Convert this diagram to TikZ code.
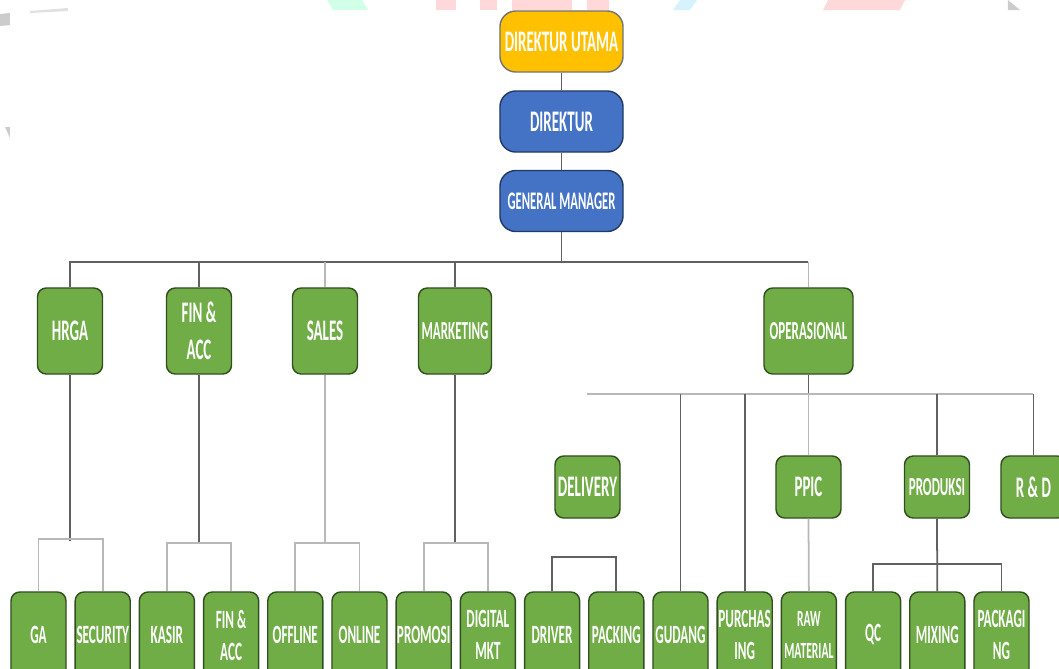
\documentclass[tikz,border=0pt]{standalone}
\usepackage{fontspec}
\newfontfamily\orgfont[FakeStretch=0.5]{Carlito}
\usepackage{tikz}

\definecolor{ygold}{HTML}{FFC000}
\definecolor{oblue}{HTML}{4472C4}
\definecolor{ogreen}{HTML}{70AD47}

\tikzset{
	unit/.style={fill=ogreen, draw=ogreen!45!black, line width=0.4pt, rounded corners=2.5pt,
		text=white, align=center, inner sep=0pt,
		font=\orgfont\bfseries\fontsize{8.5}{10.5}\selectfont},
	head/.style={unit, rounded corners=4.5pt, minimum width=1.23cm, minimum height=0.61cm},
	sect/.style={unit, minimum width=0.65cm, minimum height=0.86cm},
	dept/.style={unit, minimum width=0.65cm, minimum height=0.62cm},
	staff/.style={unit, minimum width=0.55cm, minimum height=0.86cm},
	small/.style={font=\orgfont\bfseries\fontsize{7.4}{9}\selectfont},
	link/.style={draw=black!62, line width=0.5pt},
	faint/.style={draw=black!28, line width=0.5pt}
}

\begin{document}
\begin{tikzpicture}[x=0.01cm,y=-0.01cm]
	\useasboundingbox (0,0) rectangle (1059,669);
	\clip (0,0) rectangle (1059,669);

	% faint watermark bits along the top edge
	\fill[green!50!cyan!18] (327,0) -- (362,0) -- (368,10) -- (333,10) -- cycle;
	\fill[red!15] (436,0) rectangle (456,10);
	\fill[red!15] (480,0) rectangle (497,10);
	\fill[red!15] (512,0) rectangle (572,10);
	\fill[red!15] (587,0) rectangle (609,10);
	\fill[cyan!16] (680,0) -- (697,0) -- (690,10) -- (673,10) -- cycle;
	\fill[red!15] (828,0) -- (905,0) -- (900,10) -- (823,10) -- cycle;
	\fill[black!20] (1008,0) -- (1020,10) -- (1008,10) -- cycle;
	\fill[black!20] (0,14) -- (10,13) -- (10,25) -- (0,26) -- cycle;
	\fill[black!12] (30,11) -- (68,8) -- (68,11) -- (30,13) -- cycle;
	\fill[black!20] (5,127) -- (10,127) -- (10,138) -- cycle;

	% top management
	\node[head, fill=ygold, draw=black!55] (utama) at (561.5,41.5) {DIREKTUR UTAMA};
	\node[head, fill=oblue, draw=oblue!50!black] (direktur) at (561.5,121.5) {DIREKTUR};
	\node[head, fill=oblue, draw=oblue!50!black, font=\orgfont\bfseries\fontsize{7.2}{9}\selectfont] (gm) at (561.5,201) {GENERAL MANAGER};

	% sections
	\node[sect] (hrga) at (70,331) {HRGA};
	\node[sect] (finacc) at (199,331) {FIN \&\\ACC};
	\node[sect] (sales) at (325,331) {SALES};
	\node[sect, small, minimum width=0.73cm] (marketing) at (455,331) {MARKETING};
	\node[sect, small, minimum width=0.89cm] (operasional) at (808.5,331) {OPERASIONAL};

	% departments under operasional
	\node[dept] (delivery) at (587.5,487) {DELIVERY};
	\node[dept] (ppic) at (808.5,487) {PPIC};
	\node[dept, small] (produksi) at (937,487) {PRODUKSI};
	\node[dept] (rnd) at (1033.5,487) {R \& D};

	% staff row
	\foreach \name/\lbl/\fs [count=\i from 0] in {ga/GA/7.5, security/SECURITY/7.5, kasir/KASIR/7.5, finstaff/{FIN \&\\ACC}/7.5,
		offline/OFFLINE/7.5, online/ONLINE/7.5, promosi/PROMOSI/7.5, digital/{DIGITAL\\MKT}/7.5,
		driver/DRIVER/7.5, packing/PACKING/7.5, gudang/GUDANG/7.5, purchasing/{PURCHAS\\ING}/7.5,
		raw/{RAW\\MATERIAL}/6.6, qc/QC/7.5, mixing/MIXING/7.5, packaging/{PACKAGI\\NG}/7.5}
		\node[staff, font=\orgfont\bfseries\fontsize{\fs}{9.1}\selectfont] (\name) at (38.5+64.2*\i,635) {\lbl};

	% connectors
	\coordinate (bar) at (0,262);
	\coordinate (opsbar) at (0,394);
	\draw[link] (utama) -- (direktur);
	\draw[link] (direktur) -- (gm);
	\draw[link] (gm.south) -- (gm.south |- bar);
	\draw[link] (hrga.north) |- (operasional.north |- bar);
	\draw[faint] (operasional.north |- bar) -- (operasional.north);
	\draw[link] (finacc.north) -- (finacc.north |- bar);
	\draw[faint] (sales.north) -- (sales.north |- bar);
	\draw[link] (marketing.north) -- (marketing.north |- bar);

	\draw[link] (hrga.south) -- ++(0,166);
	\draw[faint] (ga.north) -- ++(0,-52) -| (security.north);
	\draw[link] (finacc.south) -- ++(0,169);
	\draw[faint] (kasir.north) -- ++(0,-48) -| (finstaff.north);
	\draw[faint] (sales.south) -- ++(0,169);
	\draw[faint] (offline.north) -- ++(0,-48) -| (online.north);
	\draw[link] (marketing.south) -- ++(0,169);
	\draw[faint] (promosi.north) -- ++(0,-48) -| (digital.north);

	\draw[link] (operasional.south) -- (operasional.south |- opsbar);
	\draw[faint] (delivery.north |- opsbar) -- (rnd.north |- opsbar);
	\draw[link] (gudang.north) -- (gudang.north |- opsbar);
	\draw[link] (purchasing.north) -- (purchasing.north |- opsbar);
	\draw[faint] (ppic.north) -- (ppic.north |- opsbar);
	\draw[faint] (ppic.south) -- (raw.north);
	\draw[link] (produksi.north) -- (produksi.north |- opsbar);
	\draw[link] (rnd.north) -- (rnd.north |- opsbar);
	\draw[link] (produksi.south) -- (mixing.north);
	\draw[link] (qc.north) -- ++(0,-27) -| (packaging.north);
	\draw[link] (driver.north) -- ++(0,-34) -| (packing.north);
\end{tikzpicture}
\end{document}
